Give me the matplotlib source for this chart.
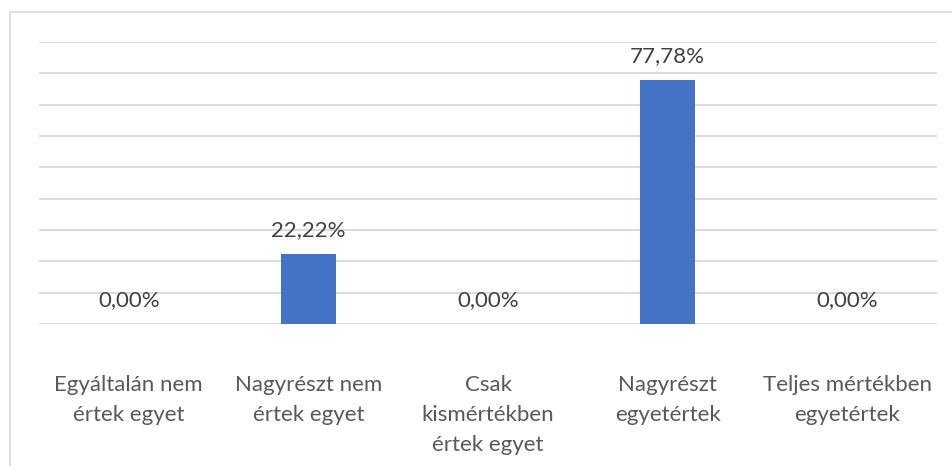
import matplotlib.pyplot as plt
from matplotlib.patches import Rectangle

categories = [
    "Egyáltalán nem\nértek egyet",
    "Nagyrészt nem\nértek egyet",
    "Csak\nkismértékben\nértek egyet",
    "Nagyrészt\negyetértek",
    "Teljes mértékben\negyetértek",
]
values = [0.0, 22.22, 0.0, 77.78, 0.0]
labels = ["0,00%", "22,22%", "0,00%", "77,78%", "0,00%"]


def main():
    plt.rcParams['font.family'] = ['Lato', 'DejaVu Sans']
    fig = plt.figure(figsize=(9.53, 4.66), dpi=100)
    ax = fig.add_axes([39 / 953, 142 / 466, 898 / 953, 282 / 466])

    x = range(len(categories))
    bars = ax.bar(x, values, width=0.31, color="#4472c4", zorder=3)
    for b, lab in zip(bars, labels):
        ax.annotate(lab, (b.get_x() + b.get_width() / 2, b.get_height()),
                    xytext=(0, 10), textcoords="offset points",
                    ha="center", va="bottom", fontsize=16, color="#404040")

    ax.set_xlim(-0.5, len(categories) - 0.5)
    ax.set_ylim(0, 90)
    ax.set_yticks(range(0, 91, 10))
    ax.yaxis.grid(True, color="#d9d9d9", linewidth=1.3, zorder=0)
    ax.tick_params(axis="y", left=False, labelleft=False)
    ax.set_xticks(list(x))
    ax.set_xticklabels(categories, fontsize=16, color="#595959",
                       linespacing=1.6, va="top")
    ax.tick_params(axis="x", length=0, pad=37)
    for s in ax.spines.values():
        s.set_visible(False)

    fig.patches.append(Rectangle((10 / 953, -0.1), 1.2, (466 - 12) / 466 + 0.1,
                                 transform=fig.transFigure, fill=False,
                                 edgecolor="#d9d9d9", linewidth=1.2))
    fig.savefig("out.png", dpi=100)


if __name__ == "__main__":
    main()
